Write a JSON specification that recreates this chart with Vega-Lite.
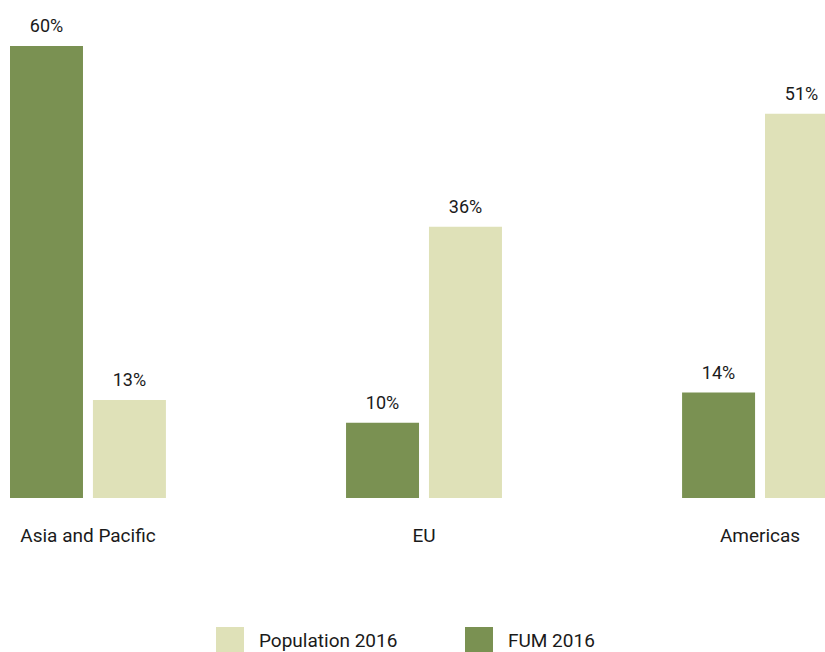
{
  "$schema": "https://vega.github.io/schema/vega-lite/v6.json",
  "autosize": "none",
  "width": 828,
  "height": 452,
  "padding": {"left": 10, "top": 46, "right": 0, "bottom": 154},
  "config": {
    "view": {"stroke": null},
    "font": "Roboto",
    "text": {"font": "Roboto"}
  },
  "data": {
    "values": [
      {"region": "Asia and Pacific", "series": "FUM 2016", "value": 0.60},
      {"region": "Asia and Pacific", "series": "Population 2016", "value": 0.13},
      {"region": "EU", "series": "FUM 2016", "value": 0.10},
      {"region": "EU", "series": "Population 2016", "value": 0.36},
      {"region": "Americas", "series": "FUM 2016", "value": 0.14},
      {"region": "Americas", "series": "Population 2016", "value": 0.51}
    ]
  },
  "encoding": {
    "x": {
      "field": "region",
      "type": "nominal",
      "sort": ["Asia and Pacific", "EU", "Americas"],
      "scale": {"paddingInner": 0.536, "paddingOuter": 0},
      "axis": {
        "title": null,
        "domain": false,
        "ticks": false,
        "labelAngle": 0,
        "labelPadding": 28,
        "labelFontSize": 19,
        "labelFontWeight": "normal",
        "labelColor": "#1a1a1a",
        "labelFont": "Roboto"
      }
    },
    "xOffset": {
      "field": "series",
      "type": "nominal",
      "sort": ["FUM 2016", "Population 2016"],
      "scale": {"paddingInner": 0.12, "paddingOuter": 0}
    },
    "y": {
      "field": "value",
      "type": "quantitative",
      "scale": {"domain": [0, 0.6], "nice": false},
      "axis": null
    }
  },
  "layer": [
    {
      "mark": {"type": "bar"},
      "encoding": {
        "color": {
          "field": "series",
          "type": "nominal",
          "sort": ["Population 2016", "FUM 2016"],
          "scale": {"domain": ["Population 2016", "FUM 2016"], "range": ["#dfe1b8", "#7a9152"]},
          "legend": {
            "title": null,
            "orient": "none",
            "direction": "horizontal",
            "legendX": 206,
            "legendY": 581,
            "symbolType": "square",
            "symbolSize": 784,
            "symbolStrokeWidth": 0,
            "labelFontSize": 19,
            "labelFont": "Roboto",
            "labelColor": "#1a1a1a",
            "labelOffset": 15,
            "columnPadding": 67
          }
        }
      }
    },
    {
      "mark": {"type": "text", "dy": -14, "baseline": "alphabetic", "fontSize": 18, "color": "#1a1a1a"},
      "encoding": {
        "text": {"field": "value", "type": "quantitative", "format": ".0%"},
        "detail": {"field": "series"}
      }
    }
  ]
}
